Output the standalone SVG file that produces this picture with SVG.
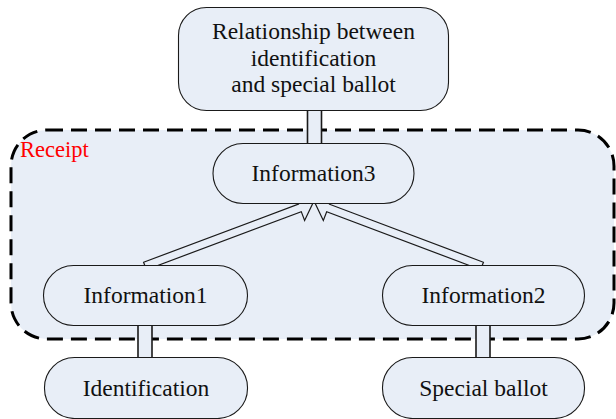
<svg xmlns="http://www.w3.org/2000/svg" width="616" height="419" viewBox="0 0 616 419">
<style>
.node{fill:#E8EEF7;stroke:#1a1a1a;stroke-width:1.1}
.pipe{fill:#E8EEF7;stroke:#1a1a1a;stroke-width:1.6}
.arrow{fill:#E8EEF7;stroke:#1a1a1a;stroke-width:1.2;stroke-linejoin:miter}
.t{font-family:"Liberation Serif","Times New Roman",serif;font-size:23.5px;fill:#111;text-anchor:middle}
</style>
<rect width="616" height="419" fill="#ffffff"/>
<g id="receipt">
<rect x="11" y="130" width="603" height="209" rx="36" ry="36" fill="#E8EEF7" stroke="#000" stroke-width="3" stroke-dasharray="16 8"/>
<text x="20" y="157" font-family="Liberation Serif, serif" font-size="22.5" fill="#ff0000">Receipt</text>
</g>
<g id="connectors">
<rect class="pipe" x="307.5" y="110" width="14" height="34"/>
<rect class="pipe" x="138" y="325" width="14" height="33"/>
<rect class="pipe" x="476" y="325" width="14" height="33"/>
<polygon class="arrow" transform="translate(145,266) rotate(-20.56)" points="0,-4 165.4,-4 165.4,-13.5 179.4,0 165.4,13.5 165.4,4 0,4"/>
<polygon class="arrow" transform="translate(482,266) rotate(-159.33)" points="0,-4 164.5,-4 164.5,-13.5 178.5,0 164.5,13.5 164.5,4 0,4"/>
</g>
<g id="top">
<rect class="node" x="178.5" y="7.5" width="270" height="103" rx="28" ry="28"/>
<text class="t" x="313.5" y="39">Relationship between</text>
<text class="t" x="313.5" y="65.5">identification</text>
<text class="t" x="313.5" y="92">and special ballot</text>
</g>
<g id="information3">
<rect class="node" x="213" y="143.5" width="201" height="60" rx="30" ry="30"/>
<text class="t" x="313.5" y="181">Information3</text>
</g>
<g id="information1">
<rect class="node" x="43.5" y="265.5" width="204" height="60" rx="30" ry="30"/>
<text class="t" x="145.5" y="303">Information1</text>
</g>
<g id="information2">
<rect class="node" x="382.5" y="265.5" width="202" height="60" rx="30" ry="30"/>
<text class="t" x="483.5" y="303">Information2</text>
</g>
<g id="identification">
<rect class="node" x="44.5" y="357.5" width="203" height="61" rx="30" ry="30"/>
<text class="t" x="146" y="395.5">Identification</text>
</g>
<g id="special">
<rect class="node" x="382.5" y="357.5" width="202" height="61" rx="30" ry="30"/>
<text class="t" x="483.5" y="395.5">Special ballot</text>
</g>
</svg>
